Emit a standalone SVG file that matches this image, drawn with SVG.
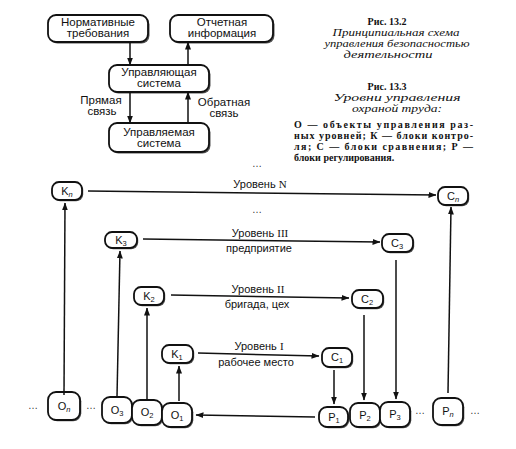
<svg xmlns="http://www.w3.org/2000/svg" width="516" height="449" viewBox="0 0 516 449">
<style>
  .bx { fill: #fff; stroke: #111; stroke-width: 1.8; }
  .sh { fill: #555; stroke: none; }
  .t { font-family: "Liberation Sans", Arial, sans-serif; font-size: 11.5px; fill: #111; text-anchor: middle; }
  .tl { font-family: "Liberation Sans", Arial, sans-serif; font-size: 11px; fill: #111; text-anchor: middle; }
  .nd { font-family: "Liberation Sans", Arial, sans-serif; font-size: 11px; fill: #111; text-anchor: middle; }
  .sub { font-size: 7.5px; }
  .ser { font-family: "Liberation Serif", "Times New Roman", serif; }
  .capb { font-family: "Liberation Serif", "Times New Roman", serif; font-weight: bold; font-size: 10px; fill: #111; text-anchor: middle; }
  .capi { font-family: "Liberation Serif", "Times New Roman", serif; font-style: italic; font-size: 11px; fill: #111; text-anchor: middle; }
  .body { font-family: "Liberation Serif", "Times New Roman", serif; font-weight: bold; font-size: 10px; fill: #111; }
  .dots { font-family: "Liberation Sans", Arial, sans-serif; font-size: 10px; fill: #333; text-anchor: middle; }
  .ar { fill: none; stroke: #111; stroke-width: 1.5; marker-end: url(#ah); }
</style>
<defs>
  <marker id="ah" markerWidth="8" markerHeight="6" refX="7.5" refY="3" orient="auto" markerUnits="userSpaceOnUse">
    <path d="M0,0 L8,3 L0,6 z" fill="#111"/>
  </marker>
</defs>
<rect width="516" height="449" fill="#fff"/>

<!-- Top diagram: Fig 13.2 -->
<g id="n-norm">
  <rect class="sh" x="49.5" y="16.5" width="100" height="27" rx="8"/>
  <rect class="bx" x="48" y="15" width="100" height="27" rx="8"/>
  <text class="t" x="98" y="26">Нормативные</text>
  <text class="t" x="98" y="37">требования</text>
</g>
<g id="n-otch">
  <rect class="sh" x="171.5" y="16.5" width="103" height="27" rx="8"/>
  <rect class="bx" x="170" y="15" width="103" height="27" rx="8"/>
  <text class="t" x="222" y="26">Отчетная</text>
  <text class="t" x="222" y="37">информация</text>
</g>
<g id="n-upr">
  <rect class="sh" x="110.5" y="66.5" width="100" height="27" rx="8"/>
  <rect class="bx" x="109" y="65" width="100" height="27" rx="8"/>
  <text class="t" x="159" y="76">Управляющая</text>
  <text class="t" x="159" y="87">система</text>
</g>
<g id="n-upm">
  <rect class="sh" x="110.5" y="124.5" width="100" height="29" rx="8"/>
  <rect class="bx" x="109" y="123" width="100" height="29" rx="8"/>
  <text class="t" x="159" y="136">Управляемая</text>
  <text class="t" x="159" y="147">система</text>
</g>
<g id="top-connectors">
  <path class="ar" d="M130,42 V65"/>
  <path class="ar" d="M188,65 V42"/>
  <path class="ar" d="M130,92 V123"/>
  <path class="ar" d="M188,123 V92"/>
  <text class="t" x="101" y="104">Прямая</text>
  <text class="t" x="102" y="115">связь</text>
  <text class="t" x="224" y="106">Обратная</text>
  <text class="t" x="224" y="117">связь</text>
</g>

<!-- Captions -->
<g id="captions">
  <text class="capb" x="387" y="25">Рис. 13.2</text>
  <text class="capi" x="396" y="36" textLength="127" lengthAdjust="spacingAndGlyphs">Принципиальная схема</text>
  <text class="capi" x="397" y="47" textLength="145" lengthAdjust="spacingAndGlyphs">управления безопасностью</text>
  <text class="capi" x="388" y="58" textLength="89" lengthAdjust="spacingAndGlyphs">деятельности</text>
  <text class="capb" x="387" y="90">Рис. 13.3</text>
  <text class="capi" x="397" y="101" textLength="127" lengthAdjust="spacingAndGlyphs">Уровни управления</text>
  <text class="capi" x="397" y="112" textLength="90" lengthAdjust="spacingAndGlyphs">охраной труда:</text>
  <text class="body" x="294" y="128" textLength="179" lengthAdjust="spacing">О — объекты управления раз-</text>
  <text class="body" x="294" y="139" textLength="179" lengthAdjust="spacing">ных уровней; К — блоки контро-</text>
  <text class="body" x="294" y="150" textLength="179" lengthAdjust="spacing">ля; С — блоки сравнения; Р —</text>
  <text class="body" x="294" y="161">блоки регулирования.</text>
</g>

<!-- Dots -->
<g id="dots">
  <text class="dots" x="257" y="167">…</text>
  <text class="dots" x="257" y="213">…</text>
  <text class="dots" x="33" y="409">…</text>
  <text class="dots" x="91" y="409">…</text>
  <text class="dots" x="420" y="414">…</text>
  <text class="dots" x="475" y="414">…</text>
</g>

<!-- Bottom diagram: Fig 13.3 -->
<g id="n-Kn">
  <rect class="sh" x="53.2" y="183.2" width="30" height="18" rx="7"/>
  <rect class="bx" x="52" y="182" width="30" height="18" rx="7"/>
  <text class="nd" x="67" y="195">K<tspan class="sub" font-style="italic" dy="1.5">n</tspan></text>
</g>
<g id="n-Cn">
  <rect class="sh" x="439.2" y="188.2" width="30" height="18" rx="7"/>
  <rect class="bx" x="438" y="187" width="30" height="18" rx="7"/>
  <text class="nd" x="453" y="200">C<tspan class="sub" font-style="italic" dy="1.5">n</tspan></text>
</g>
<g id="n-K3">
  <rect class="sh" x="106.2" y="233.2" width="32" height="16" rx="7"/>
  <rect class="bx" x="105" y="232" width="32" height="16" rx="7"/>
  <text class="nd" x="121" y="244">K<tspan class="sub" dy="1.5">3</tspan></text>
</g>
<g id="n-C3">
  <rect class="sh" x="383.2" y="235.2" width="31" height="18" rx="7"/>
  <rect class="bx" x="382" y="234" width="31" height="18" rx="7"/>
  <text class="nd" x="397" y="247">C<tspan class="sub" dy="1.5">3</tspan></text>
</g>
<g id="n-K2">
  <rect class="sh" x="135.2" y="288.2" width="30" height="18" rx="7"/>
  <rect class="bx" x="134" y="287" width="30" height="18" rx="7"/>
  <text class="nd" x="149" y="300">K<tspan class="sub" dy="1.5">2</tspan></text>
</g>
<g id="n-C2">
  <rect class="sh" x="353.2" y="291.2" width="31" height="18" rx="7"/>
  <rect class="bx" x="352" y="290" width="31" height="18" rx="7"/>
  <text class="nd" x="367" y="303">C<tspan class="sub" dy="1.5">2</tspan></text>
</g>
<g id="n-K1">
  <rect class="sh" x="163.2" y="346.2" width="31" height="18" rx="7"/>
  <rect class="bx" x="162" y="345" width="31" height="18" rx="7"/>
  <text class="nd" x="177" y="358">K<tspan class="sub" dy="1.5">1</tspan></text>
</g>
<g id="n-C1">
  <rect class="sh" x="323.2" y="349.2" width="30" height="19" rx="7"/>
  <rect class="bx" x="322" y="348" width="30" height="19" rx="7"/>
  <text class="nd" x="337" y="361">C<tspan class="sub" dy="1.5">1</tspan></text>
</g>
<g id="n-On">
  <rect class="sh" x="49.3" y="393.3" width="32" height="28" rx="8"/>
  <rect class="bx" x="48" y="392" width="32" height="28" rx="8"/>
  <text class="nd" x="64" y="410">O<tspan class="sub" font-style="italic" dy="1.5">n</tspan></text>
</g>
<g id="n-O3">
  <rect class="sh" x="103.3" y="398.3" width="30" height="26" rx="8"/>
  <rect class="bx" x="102" y="397" width="30" height="26" rx="8"/>
  <text class="nd" x="117" y="414">O<tspan class="sub" dy="1.5">3</tspan></text>
</g>
<g id="n-O2">
  <rect class="sh" x="133.3" y="401.3" width="30" height="25" rx="8"/>
  <rect class="bx" x="132" y="400" width="30" height="25" rx="8"/>
  <text class="nd" x="147" y="416">O<tspan class="sub" dy="1.5">2</tspan></text>
</g>
<g id="n-O1">
  <rect class="sh" x="163.3" y="404.3" width="30" height="24" rx="8"/>
  <rect class="bx" x="162" y="403" width="30" height="24" rx="8"/>
  <text class="nd" x="177" y="419">O<tspan class="sub" dy="1.5">1</tspan></text>
</g>
<g id="n-P1">
  <rect class="sh" x="320.3" y="408.3" width="29" height="20" rx="8"/>
  <rect class="bx" x="319" y="407" width="29" height="20" rx="8"/>
  <text class="nd" x="334" y="421">P<tspan class="sub" dy="1.5">1</tspan></text>
</g>
<g id="n-P2">
  <rect class="sh" x="351.3" y="404.3" width="30" height="24" rx="8"/>
  <rect class="bx" x="350" y="403" width="30" height="24" rx="8"/>
  <text class="nd" x="365" y="419">P<tspan class="sub" dy="1.5">2</tspan></text>
</g>
<g id="n-P3">
  <rect class="sh" x="381.3" y="403.3" width="30" height="25" rx="8"/>
  <rect class="bx" x="380" y="402" width="30" height="25" rx="8"/>
  <text class="nd" x="395" y="418">P<tspan class="sub" dy="1.5">3</tspan></text>
</g>
<g id="n-Pn">
  <rect class="sh" x="434.3" y="399.3" width="30" height="27" rx="8"/>
  <rect class="bx" x="433" y="398" width="30" height="27" rx="8"/>
  <text class="nd" x="448" y="415">P<tspan class="sub" font-style="italic" dy="1.5">n</tspan></text>
</g>

<g id="connectors">
  <path class="ar" d="M88,191 L436,195"/>
  <path class="ar" d="M143,239 L380,242"/>
  <path class="ar" d="M171,295 L349,298"/>
  <path class="ar" d="M198,353 L319,356"/>
  <path class="ar" d="M315,417 L196,415"/>
  <path class="ar" d="M64,395 L65,203"/>
  <path class="ar" d="M117,397 L120,251"/>
  <path class="ar" d="M147,400 V308"/>
  <path class="ar" d="M179,401 V366"/>
  <path class="ar" d="M334,370 V404"/>
  <path class="ar" d="M364,315 V400"/>
  <path class="ar" d="M396,260 V399"/>
  <path class="ar" d="M448,393 L451,207"/>
  <text class="tl" x="260" y="188">Уровень <tspan class="ser">N</tspan></text>
  <text class="tl" x="260" y="237">Уровень <tspan class="ser">III</tspan></text>
  <text class="tl" x="259" y="252">предприятие</text>
  <text class="tl" x="258" y="293">Уровень <tspan class="ser">II</tspan></text>
  <text class="tl" x="257" y="308">бригада, цех</text>
  <text class="tl" x="259" y="350">Уровень <tspan class="ser">I</tspan></text>
  <text class="tl" x="256" y="366">рабочее место</text>
</g>
</svg>
